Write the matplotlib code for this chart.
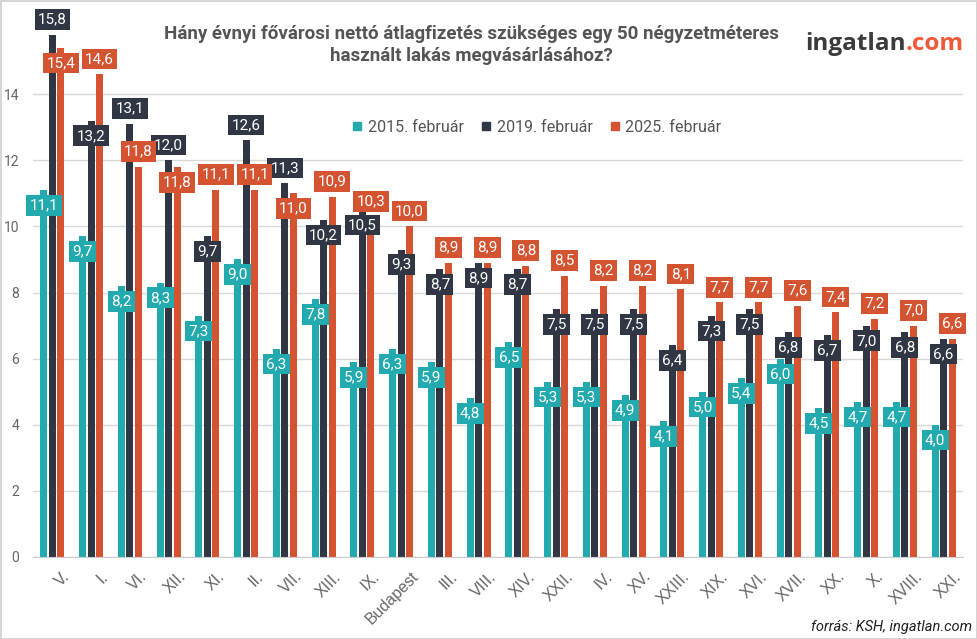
import numpy as np
import matplotlib.pyplot as plt
from matplotlib.lines import Line2D
import matplotlib.transforms as mtransforms

plt.rcParams['font.family'] = ['Roboto', 'DejaVu Sans']

districts = ['V.', 'I.', 'VI.', 'XII.', 'XI.', 'II.', 'VII.', 'XIII.', 'IX.', 'Budapest',
             'III.', 'VIII.', 'XIV.', 'XXII.', 'IV.', 'XV.', 'XXIII.', 'XIX.', 'XVI.',
             'XVII.', 'XX.', 'X.', 'XVIII.', 'XXI.']
y2015 = [11.1, 9.7, 8.2, 8.3, 7.3, 9.0, 6.3, 7.8, 5.9, 6.3, 5.9, 4.8, 6.5, 5.3, 5.3,
         4.9, 4.1, 5.0, 5.4, 6.0, 4.5, 4.7, 4.7, 4.0]
y2019 = [15.8, 13.2, 13.1, 12.0, 9.7, 12.6, 11.3, 10.2, 10.5, 9.3, 8.7, 8.9, 8.7, 7.5,
         7.5, 7.5, 6.4, 7.3, 7.5, 6.8, 6.7, 7.0, 6.8, 6.6]
y2025 = [15.4, 14.6, 11.8, 11.8, 11.1, 11.1, 11.0, 10.9, 10.3, 10.0, 8.9, 8.9, 8.8, 8.5,
         8.2, 8.2, 8.1, 7.7, 7.7, 7.6, 7.4, 7.2, 7.0, 6.6]
series_names = ['2015. február', '2019. február', '2025. február']

# label placement: 'a' = box above bar top, 'b' = box just under bar top
place2015 = ['b'] * 24
place2019 = ['a', 'b', 'a', 'a', 'b', 'a', 'a'] + ['b'] * 17
place2025 = ['b', 'a', 'a', 'b', 'a', 'a', 'b'] + ['a'] * 17

colors = ['#23aaae', '#313644', '#d45431']

fig = plt.figure(figsize=(9.77, 6.39), dpi=100)
fig.patch.set_edgecolor('#d6d6d6')
fig.patch.set_linewidth(2)
ax = fig.add_axes([33 / 977, 1 - 557 / 639, 930 / 977, 529 / 639])

x = np.arange(len(districts))
w = 0.18
offs = [-0.22, 0.0, 0.22]
allvals = [y2015, y2019, y2025]
places = [place2015, place2019, place2025]

for vals, off, col, plc in zip(allvals, offs, colors, places):
    ax.bar(x + off, vals, width=w, color=col, zorder=2)
    for xi, v, p in zip(x, vals, plc):
        dy = 11 if p == 'a' else -11
        ax.annotate(f'{v:.1f}'.replace('.', ','), (xi + off, v), xytext=(0, dy),
                    textcoords='offset points', ha='center', va='center',
                    fontsize=11, color='white', zorder=4, annotation_clip=False,
                    bbox=dict(boxstyle='square,pad=0.22', fc=col, ec='none'))

ax.set_xlim(-0.5, 23.5)
ax.set_ylim(0, 16)
ax.set_yticks(range(0, 16, 2))
ax.grid(axis='y', color='#d9d9d9', linewidth=1, zorder=0)
ax.set_axisbelow(True)
for s in ['top', 'right', 'left']:
    ax.spines[s].set_visible(False)
ax.spines['bottom'].set_color('#cccccc')
ax.tick_params(length=0, colors='#666666')
ax.tick_params(axis='y', labelsize=10, pad=10)
ax.set_xticks(x)
ax.set_xticklabels(districts, rotation=45, ha='right', va='top',
                   rotation_mode='anchor', fontsize=11.5, color='#666666',
                   family='Liberation Sans')
shift = mtransforms.ScaledTranslation(7 / 72, -5 / 72, fig.dpi_scale_trans)
for lab in ax.get_xticklabels():
    lab.set_transform(lab.get_transform() + shift)

fig.text(471 / 977, 1 - 45 / 639,
         'Hány évnyi fővárosi nettó átlagfizetés szükséges egy 50 négyzetméteres\n'
         'használt lakás megvásárlásához?',
         ha='center', va='center', fontsize=13.5, fontweight='bold',
         color='#555555', linespacing=1.35)

# logo text
logo = fig.text(805 / 977, 1 - 44 / 639, 'ingatlan', ha='left', va='center',
                fontsize=17.5, fontweight='bold', color='#3c3c3c', family='Open Sans')
ax.annotate('.com', xy=(1, 0.5), xycoords=logo, ha='left', va='center',
            fontsize=17.5, fontweight='bold', color='#f05a3a', family='Open Sans',
            annotation_clip=False)

handles = [Line2D([], [], marker='s', linestyle='none', markersize=5.5,
                  color=c) for c in colors]
fig.legend(handles, series_names, loc='center', bbox_to_anchor=(537 / 977, 1 - 127 / 639),
           ncol=3, frameon=False, fontsize=11.5, labelcolor='#555555',
           handlelength=0.6, handletextpad=0.35, columnspacing=1.1)

fig.text(972 / 977, 1 - 627 / 639, 'forrás: KSH, ingatlan.com', ha='right', va='center',
         fontsize=10.5, style='italic', color='#222222')

fig.savefig('out.png', dpi=100)
